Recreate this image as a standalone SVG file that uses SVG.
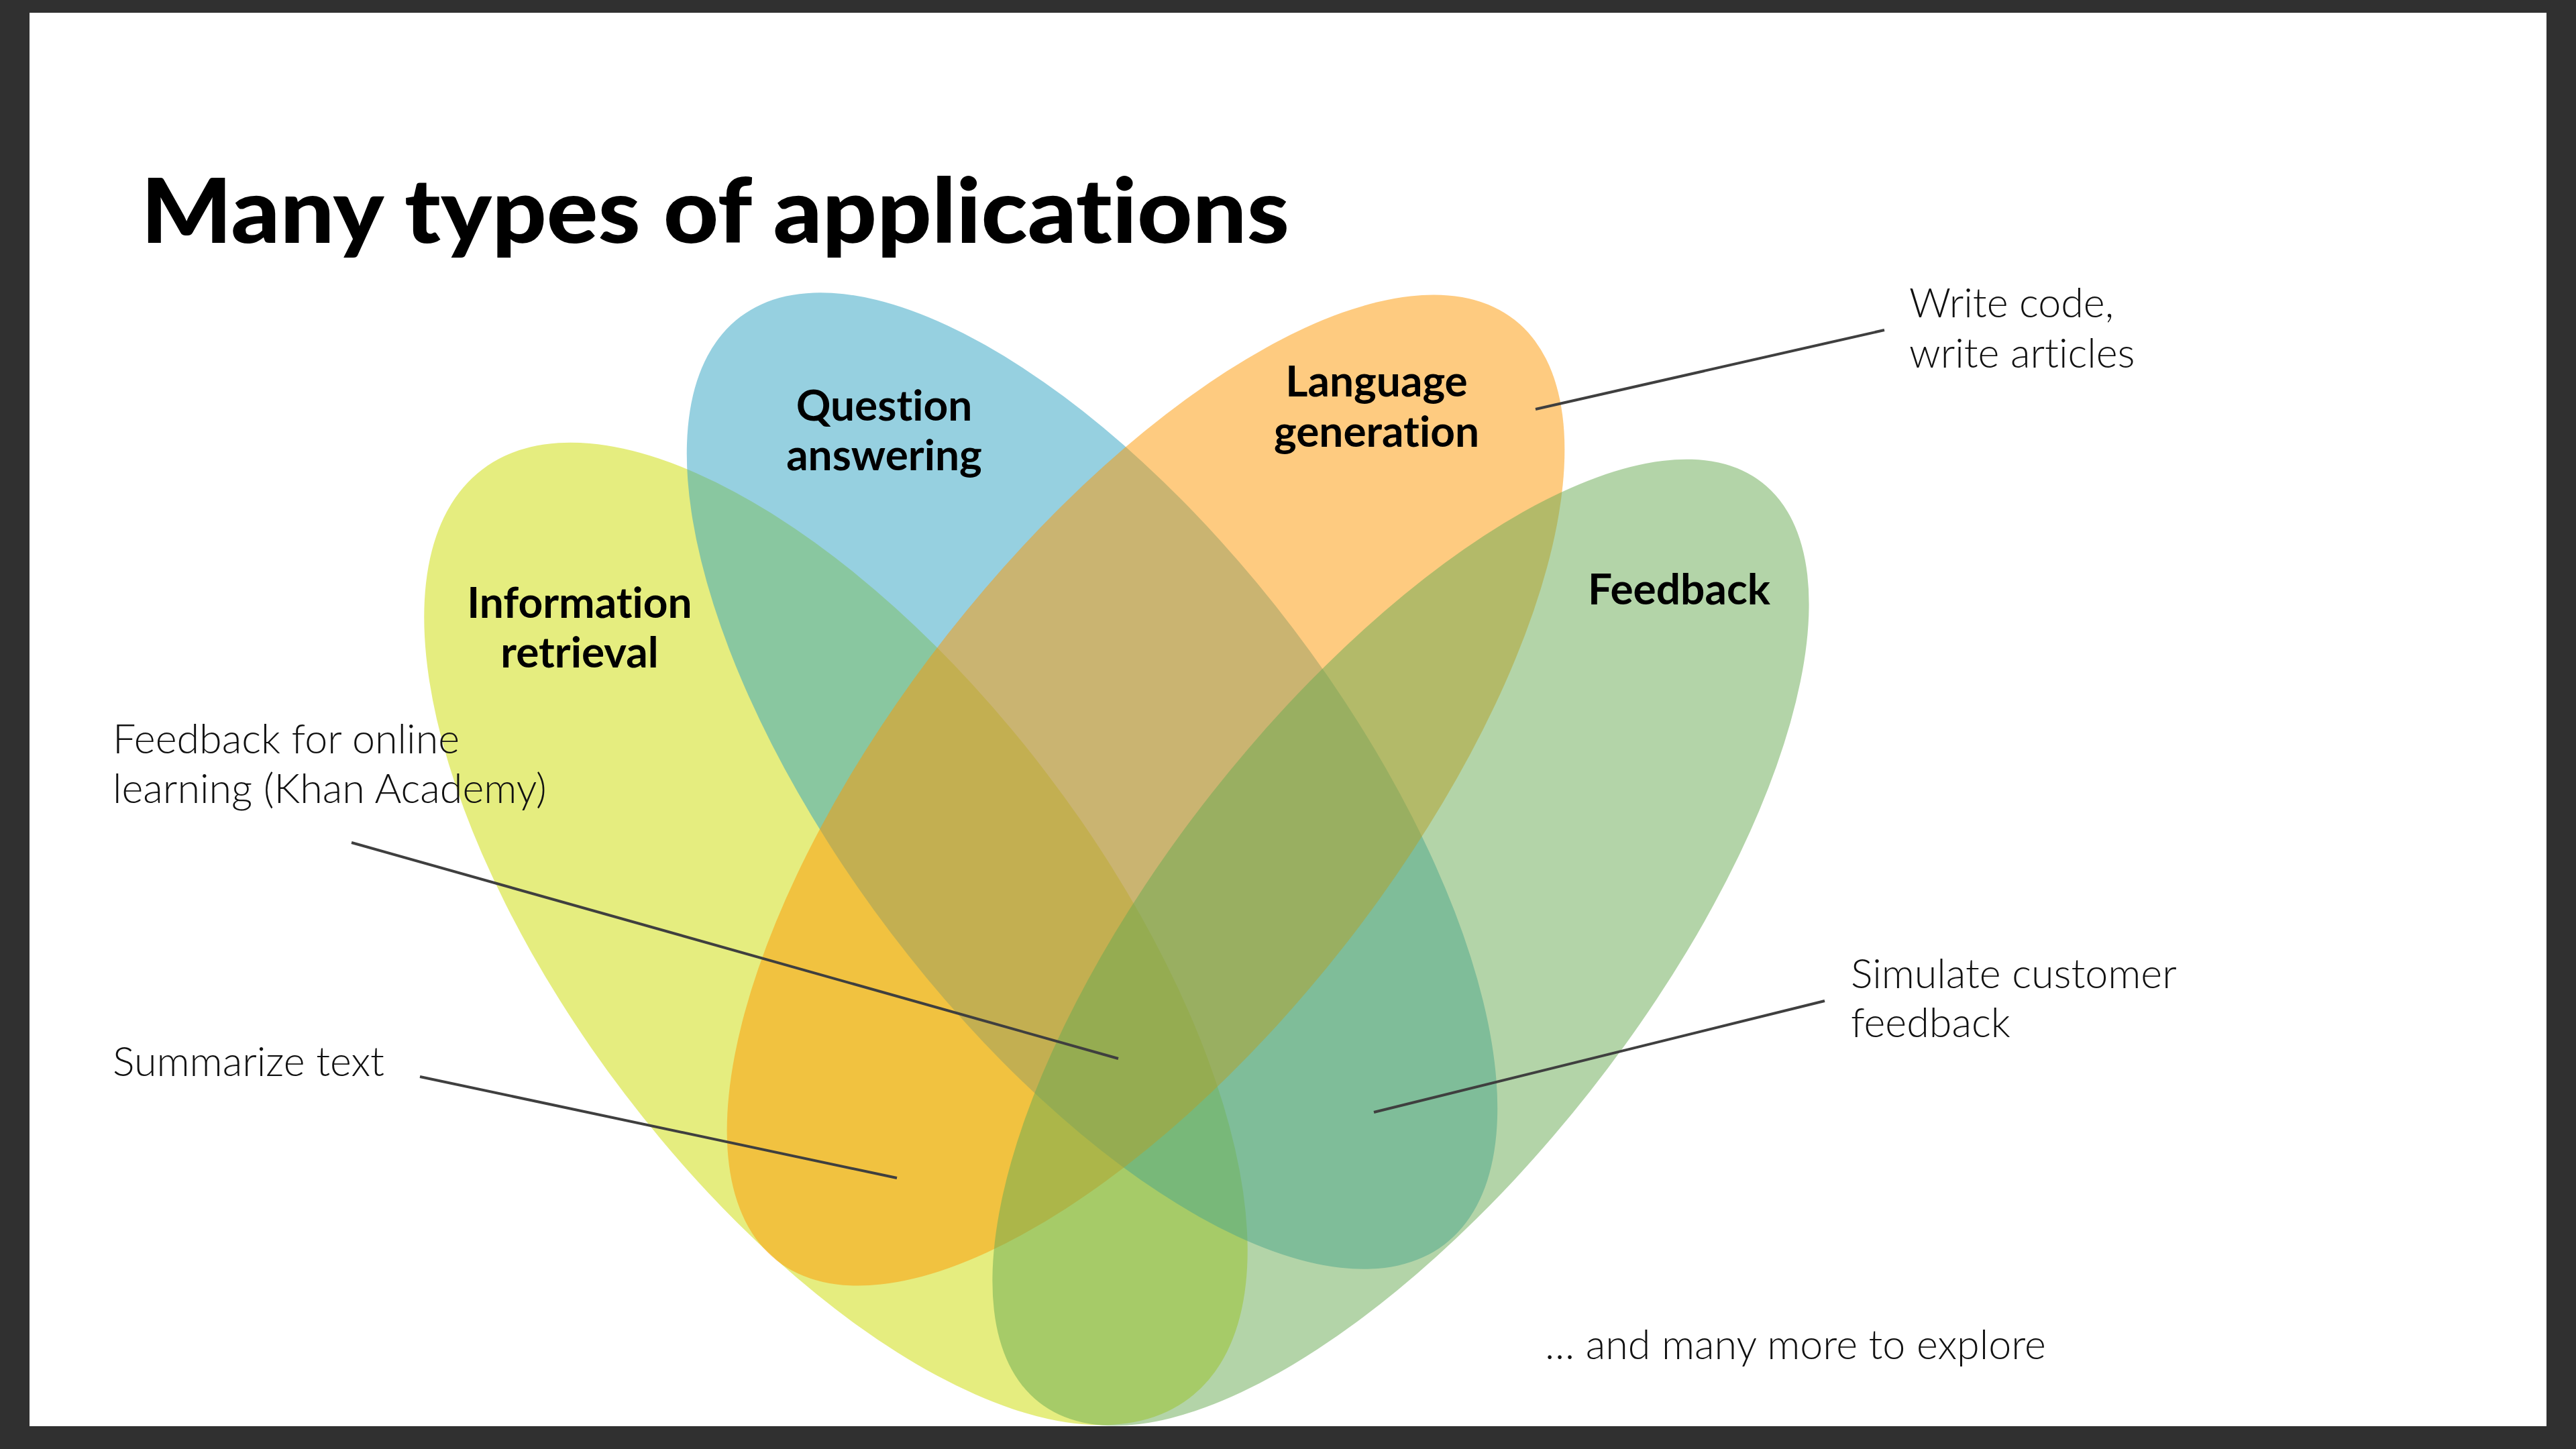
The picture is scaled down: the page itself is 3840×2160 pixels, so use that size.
<svg xmlns="http://www.w3.org/2000/svg" width="3840" height="2160" viewBox="0 0 3840 2160">
  <style>
    text { font-variant-ligatures: none; }
    .title { font-family: Lato, "Liberation Sans", sans-serif; font-weight: 900; font-size: 134px; fill: #000; }
    .label { font-family: Lato, "Liberation Sans", sans-serif; font-weight: 700; font-size: 64px; fill: #000; text-anchor: middle; }
    .note { font-family: Lato, "Liberation Sans", sans-serif; font-weight: 300; font-size: 61px; fill: #111; }
    .petal { fill-opacity: 0.5; }
    .leader { stroke: #3f3f3f; stroke-width: 4; fill: none; stroke-linecap: butt; }
  </style>

  <!-- frame and slide -->
  <rect x="0" y="0" width="3840" height="2160" fill="#303030"/>
  <rect x="44" y="19" width="3752" height="2107" fill="#ffffff"/>

  <text class="title" x="210" y="362" textLength="1712" lengthAdjust="spacingAndGlyphs">Many types of applications</text>

  <!-- Venn petals -->
  <g id="information-retrieval">
    <ellipse class="petal" cx="1246" cy="1392" rx="870" ry="395" fill="#CCDC00" transform="rotate(52.7 1246 1392)"/>
    <text class="label" x="864" y="921">Information</text>
    <text class="label" x="864" y="995">retrieval</text>
  </g>
  <g id="question-answering">
    <ellipse class="petal" cx="1628" cy="1164" rx="868" ry="376" fill="#2DA1C1" transform="rotate(52.8 1628 1164)"/>
    <text class="label" x="1318" y="627">Question</text>
    <text class="label" x="1318" y="701">answering</text>
  </g>
  <g id="language-generation">
    <ellipse class="petal" cx="1708" cy="1178" rx="891" ry="376" fill="#FD9701" transform="rotate(-51.9 1708 1178)"/>
    <text class="label" x="2052" y="591">Language</text>
    <text class="label" x="2052" y="666">generation</text>
  </g>
  <g id="feedback">
    <ellipse class="petal" cx="2088" cy="1405" rx="872" ry="359" fill="#67A951" transform="rotate(-51.8 2088 1405)"/>
    <text class="label" x="2503" y="901">Feedback</text>
  </g>

  <!-- leader lines -->
  <g id="connectors">
    <line class="leader" x1="2809" y1="492" x2="2289" y2="610"/>
    <line class="leader" x1="524" y1="1256" x2="1667" y2="1578"/>
    <line class="leader" x1="626" y1="1605" x2="1337" y2="1756"/>
    <line class="leader" x1="2720" y1="1492" x2="2048" y2="1658"/>
  </g>

  <!-- annotations -->
  <g id="annotations">
    <text class="note" x="2846" y="473">Write code,</text>
    <text class="note" x="2846" y="548">write articles</text>
    <text class="note" x="168" y="1123">Feedback for online</text>
    <text class="note" x="168" y="1197">learning (Khan Academy)</text>
    <text class="note" x="168" y="1604">Summarize text</text>
    <text class="note" x="2759" y="1473">Simulate customer</text>
    <text class="note" x="2759" y="1546">feedback</text>
    <text class="note" x="2303" y="2026">… and many more to explore</text>
  </g>
</svg>
